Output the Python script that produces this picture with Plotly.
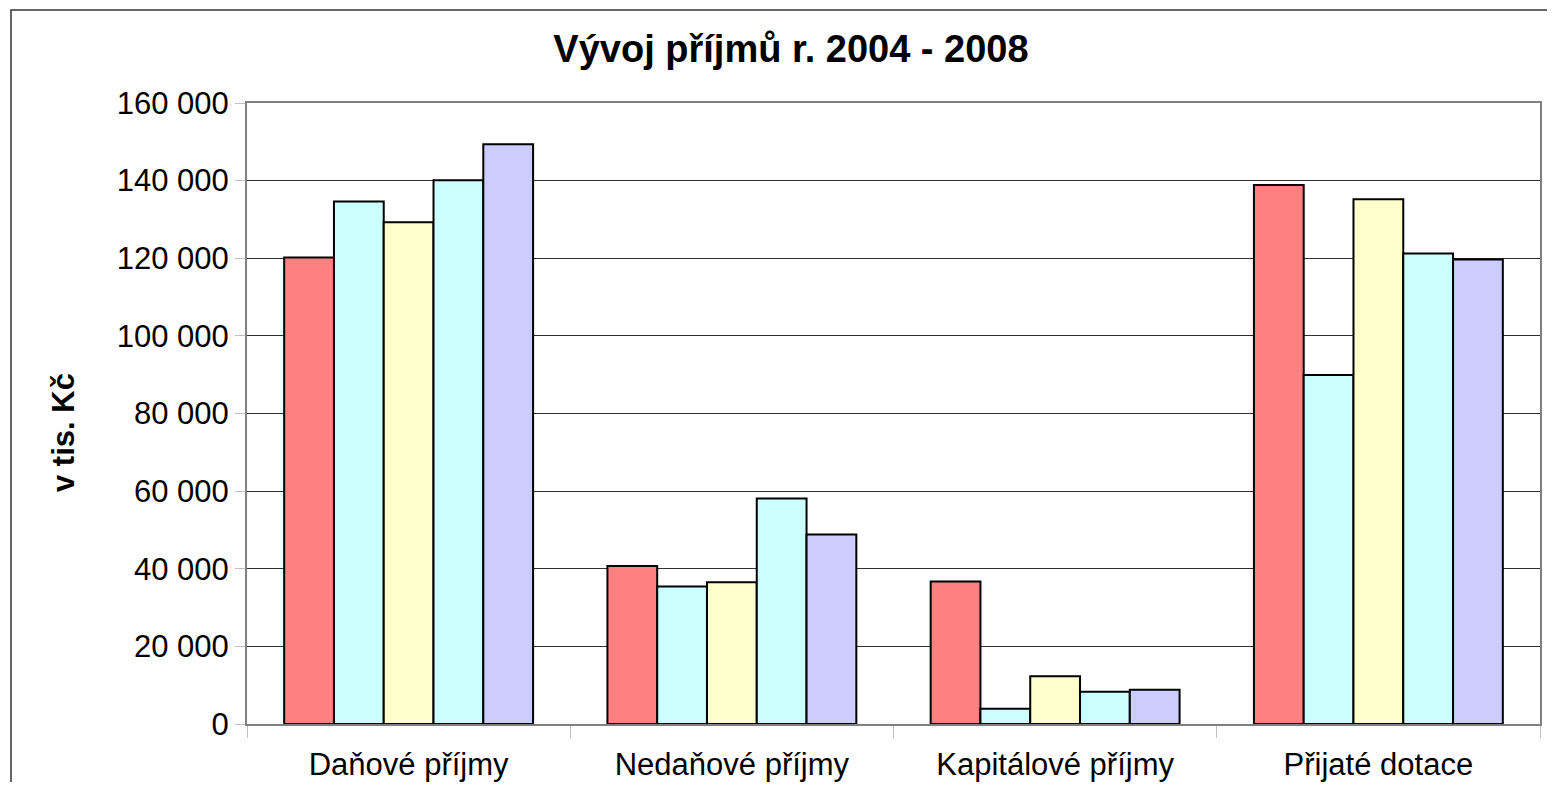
import plotly.graph_objects as go

categories = ["Daňové příjmy", "Nedaňové příjmy", "Kapitálové příjmy", "Přijaté dotace"]
years = ["2004", "2005", "2006", "2007", "2008"]
values_2004 = [120200, 40700, 36700, 138900]
values_2005 = [134600, 35400, 3900, 89900]
values_2006 = [129300, 36500, 12300, 135200]
values_2007 = [140100, 58100, 8300, 121200]
values_2008 = [149400, 48800, 8800, 119700]
series = [values_2004, values_2005, values_2006, values_2007, values_2008]
colors = ["#FF8080", "#CCFFFF", "#FFFFCC", "#CCFFFF", "#CCCCFF"]

# page has an 8px body margin; figure sized so the page never overflows the window
W, H = 1539, 774
L, R, T, B = 239, 7, 95, 58
pw, ph = W - L - R, H - T - B

fig = go.Figure()
for name, vals, col in zip(years, series, colors):
    fig.add_trace(go.Bar(
        x=categories, y=vals, name=name,
        marker=dict(color=col, line=dict(color="#000000", width=2)),
    ))

FONT = "Liberation Sans, Arial, sans-serif"
fig.update_layout(
    width=W, height=H,
    margin=dict(l=L, r=R, t=T, b=B, autoexpand=False),
    paper_bgcolor="white", plot_bgcolor="white",
    barmode="group", bargap=0.23, bargroupgap=0,
    showlegend=False,
    separators=", ",
    font=dict(family=FONT, size=31, color="#000000"),
    title=dict(
        text="<b>Vývoj příjmů r. 2004 - 2008</b>",
        x=783 / W, xanchor="center", xref="container",
        y=1 - 41 / H, yanchor="middle", yref="container",
        font=dict(family=FONT, size=38, color="#000000"),
    ),
    xaxis=dict(
        type="category", automargin=False,
        showline=True, linecolor="#808080", linewidth=2, mirror=True,
        ticks="outside", tickson="boundaries", ticklen=12, tickcolor="#c0c0c0",
        ticklabelstandoff=12,
        tickfont=dict(family=FONT, size=31, color="#000000"),
        showgrid=False,
    ),
    yaxis=dict(
        range=[0, 160000], dtick=20000, tick0=0, automargin=False,
        tickformat=",d",
        showline=True, linecolor="#808080", linewidth=2, mirror=True,
        ticks="outside", ticklen=10, tickcolor="#c0c0c0",
        showgrid=True, gridcolor="#303030", gridwidth=1,
        zeroline=False,
        tickfont=dict(family=FONT, size=31, color="#000000"),
    ),
)

# y-axis title
fig.add_annotation(
    text="<b>v tis. Kč</b>", textangle=-90, showarrow=False,
    xref="paper", yref="paper",
    x=(55 - L) / pw, y=((H - B) - 424) / ph,
    xanchor="center", yanchor="middle",
    font=dict(family=FONT, size=31, color="#000000"),
)

# outer chart frame
fig.add_shape(
    type="rect", xref="paper", yref="paper",
    x0=(3 - L) / pw, x1=(1545 - L) / pw,
    y0=-(800 - (H - B)) / ph,
    y1=((H - B) - 2) / ph,
    line=dict(color="#333333", width=1.5), fillcolor="rgba(0,0,0,0)",
    layer="below",
)

fig.write_html("out.html")
